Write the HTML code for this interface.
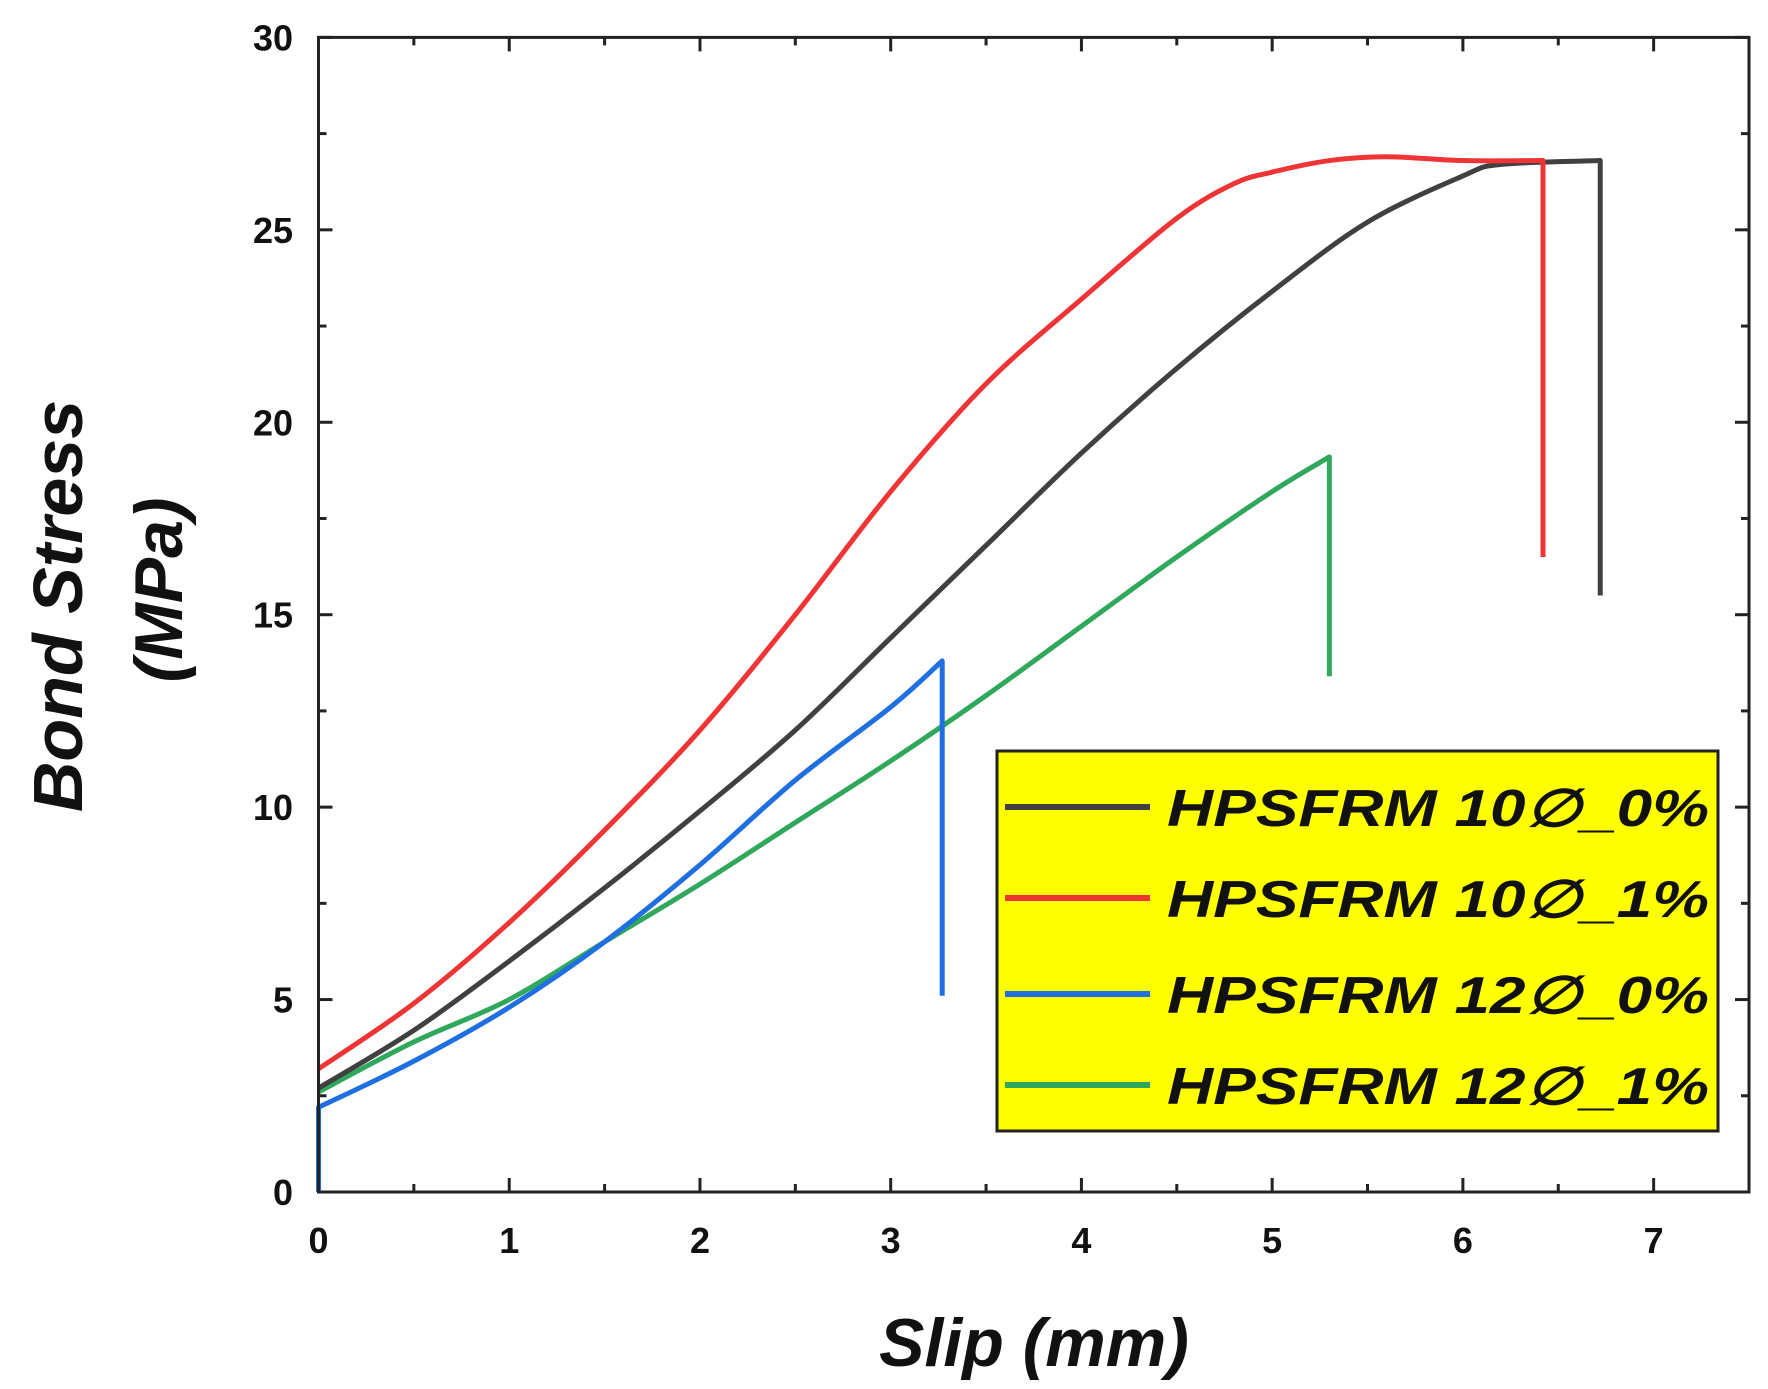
<!DOCTYPE html>
<html><head><meta charset="utf-8"><style>
body{margin:0;background:#fff}
svg{display:block}
text{font-family:"Liberation Sans",Arial,sans-serif;font-weight:bold}
</style></head><body>
<svg id="c" width="1768" height="1389" viewBox="0 0 1768 1389"></svg>
<script>
const xTicks=[0,1,2,3,4,5,6,7];
const yTicks=[0,5,10,15,20,25,30];
const seriesNames=["HPSFRM 10\u2205_0%","HPSFRM 10\u2205_1%","HPSFRM 12\u2205_0%","HPSFRM 12\u2205_1%"];
const seriesColors=["#404040","#ee3535","#1f6fe0","#2fa85c"];
const blackX=[0,0.5,1,1.5,2,2.5,3,3.5,4,4.5,5,5.5,6,6.2,6.72,6.72];
const blackY=[2.7,4.2,6,7.9,9.9,12,14.4,16.8,19.2,21.4,23.4,25.2,26.4,26.7,26.8,15.5];
const redX=[0,0.5,1,1.5,2,2.5,3,3.5,4,4.5,4.8,5,5.3,5.6,6,6.42,6.42];
const redY=[3.2,4.9,7,9.4,12,15,18.2,21,23.2,25.3,26.2,26.5,26.8,26.9,26.8,26.8,16.5];
const blueX=[0,0,0.5,1,1.5,2,2.5,3,3.27,3.27];
const blueY=[0,2.2,3.4,4.8,6.5,8.5,10.7,12.6,13.8,5.1];
const greenX=[0,0.5,1,1.5,2,2.5,3,3.5,4,4.5,5,5.3,5.3];
const greenY=[2.6,3.9,5,6.5,8,9.6,11.2,12.9,14.7,16.5,18.2,19.1,13.4];

const L=318.5,R=1749,T=37.4,B=1192,XMAX=7.5,YMAX=30;
const sx=v=>L+v/XMAX*(R-L), sy=v=>B-v/YMAX*(B-T);
const svg=document.getElementById('c'),NS='http://www.w3.org/2000/svg';
function mk(t,a,txt){const e=document.createElementNS(NS,t);for(const k in a)e.setAttribute(k,a[k]);if(txt!=null)e.textContent=txt;svg.appendChild(e);return e;}

function smoothPath(X,Y){
  const P=X.map((x,j)=>[sx(x),sy(Y[j])]);
  let d='M'+P[0][0]+','+P[0][1];
  for(let i=0;i<P.length-1;i++){
    const p1=P[i],p2=P[i+1];
    if(Math.abs(p1[0]-p2[0])<0.5){d+=' L'+p2[0]+','+p2[1];continue;}
    const p0=(i>0&&Math.abs(P[i-1][0]-p1[0])>0.5)?P[i-1]:p1;
    const p3=(i+2<P.length&&Math.abs(P[i+2][0]-p2[0])>0.5)?P[i+2]:p2;
    const c1=[p1[0]+(p2[0]-p0[0])/6,p1[1]+(p2[1]-p0[1])/6];
    const c2=[p2[0]-(p3[0]-p1[0])/6,p2[1]-(p3[1]-p1[1])/6];
    d+=' C'+c1[0]+','+c1[1]+' '+c2[0]+','+c2[1]+' '+p2[0]+','+p2[1];
  }
  return d;
}

const xs=[blackX,redX,blueX,greenX],ys=[blackY,redY,blueY,greenY];
const snames=['series-10-0','series-10-1','series-12-0','series-12-1'];
[3,2,0,1].forEach(i=>{
  const p=mk('path',{d:smoothPath(xs[i],ys[i]),fill:'none',stroke:seriesColors[i],'stroke-width':5,'stroke-linejoin':'round'});
  
  
});

const f=mk('rect',{x:L,y:T,width:R-L,height:B-T,fill:'none',stroke:'#222','stroke-width':3});



for(let v=0;v<=XMAX+0.001;v+=0.5){
  const len=(v%1===0)?14:8,x=sx(v);
  mk('line',{x1:x,y1:B,x2:x,y2:B-len,stroke:'#222','stroke-width':3});
  mk('line',{x1:x,y1:T,x2:x,y2:T+len,stroke:'#222','stroke-width':3});
}
for(let v=0;v<=YMAX;v+=2.5){
  const len=(v%5===0)?14:8,y=sy(v);
  mk('line',{x1:L,y1:y,x2:L+len,y2:y,stroke:'#222','stroke-width':3});
  mk('line',{x1:R,y1:y,x2:R-len,y2:y,stroke:'#222','stroke-width':3});
}
xTicks.forEach(v=>{
  const t=mk('text',{x:sx(v),y:1253,'font-size':36,'text-anchor':'middle',fill:'#111'},String(v));
  
  
});
yTicks.forEach(v=>{
  const t=mk('text',{x:293,y:sy(v)+13,'font-size':36,'text-anchor':'end',fill:'#111'},String(v));
  
  
});

const xt=mk('text',{x:1034,y:1366,'font-size':68,'font-style':'italic','text-anchor':'middle',fill:'#111'},'Slip (mm)');


const yt1=mk('text',{x:0,y:0,'font-size':70,'font-style':'italic','text-anchor':'middle',fill:'#111',transform:'translate(82,606) rotate(-90)'},'Bond Stress');


const yt2=mk('text',{x:0,y:0,'font-size':68,'font-style':'italic','text-anchor':'middle',fill:'#111',transform:'translate(182,590) rotate(-90)'},'(MPa)');



const lg=mk('rect',{x:997,y:751,width:721,height:380,fill:'#ffff00',stroke:'#222','stroke-width':3});


const ly=[807,898,994,1085];
seriesNames.forEach((n,i)=>{
  const l=mk('line',{x1:1005,y1:ly[i],x2:1150,y2:ly[i],stroke:seriesColors[i],'stroke-width':6});
  
  
  const t=mk('text',{x:1167,y:ly[i]+19,'font-size':52,'font-style':'italic',fill:'#111',textLength:542,lengthAdjust:'spacingAndGlyphs'},n);
  
  
});
</script>
</body></html>
